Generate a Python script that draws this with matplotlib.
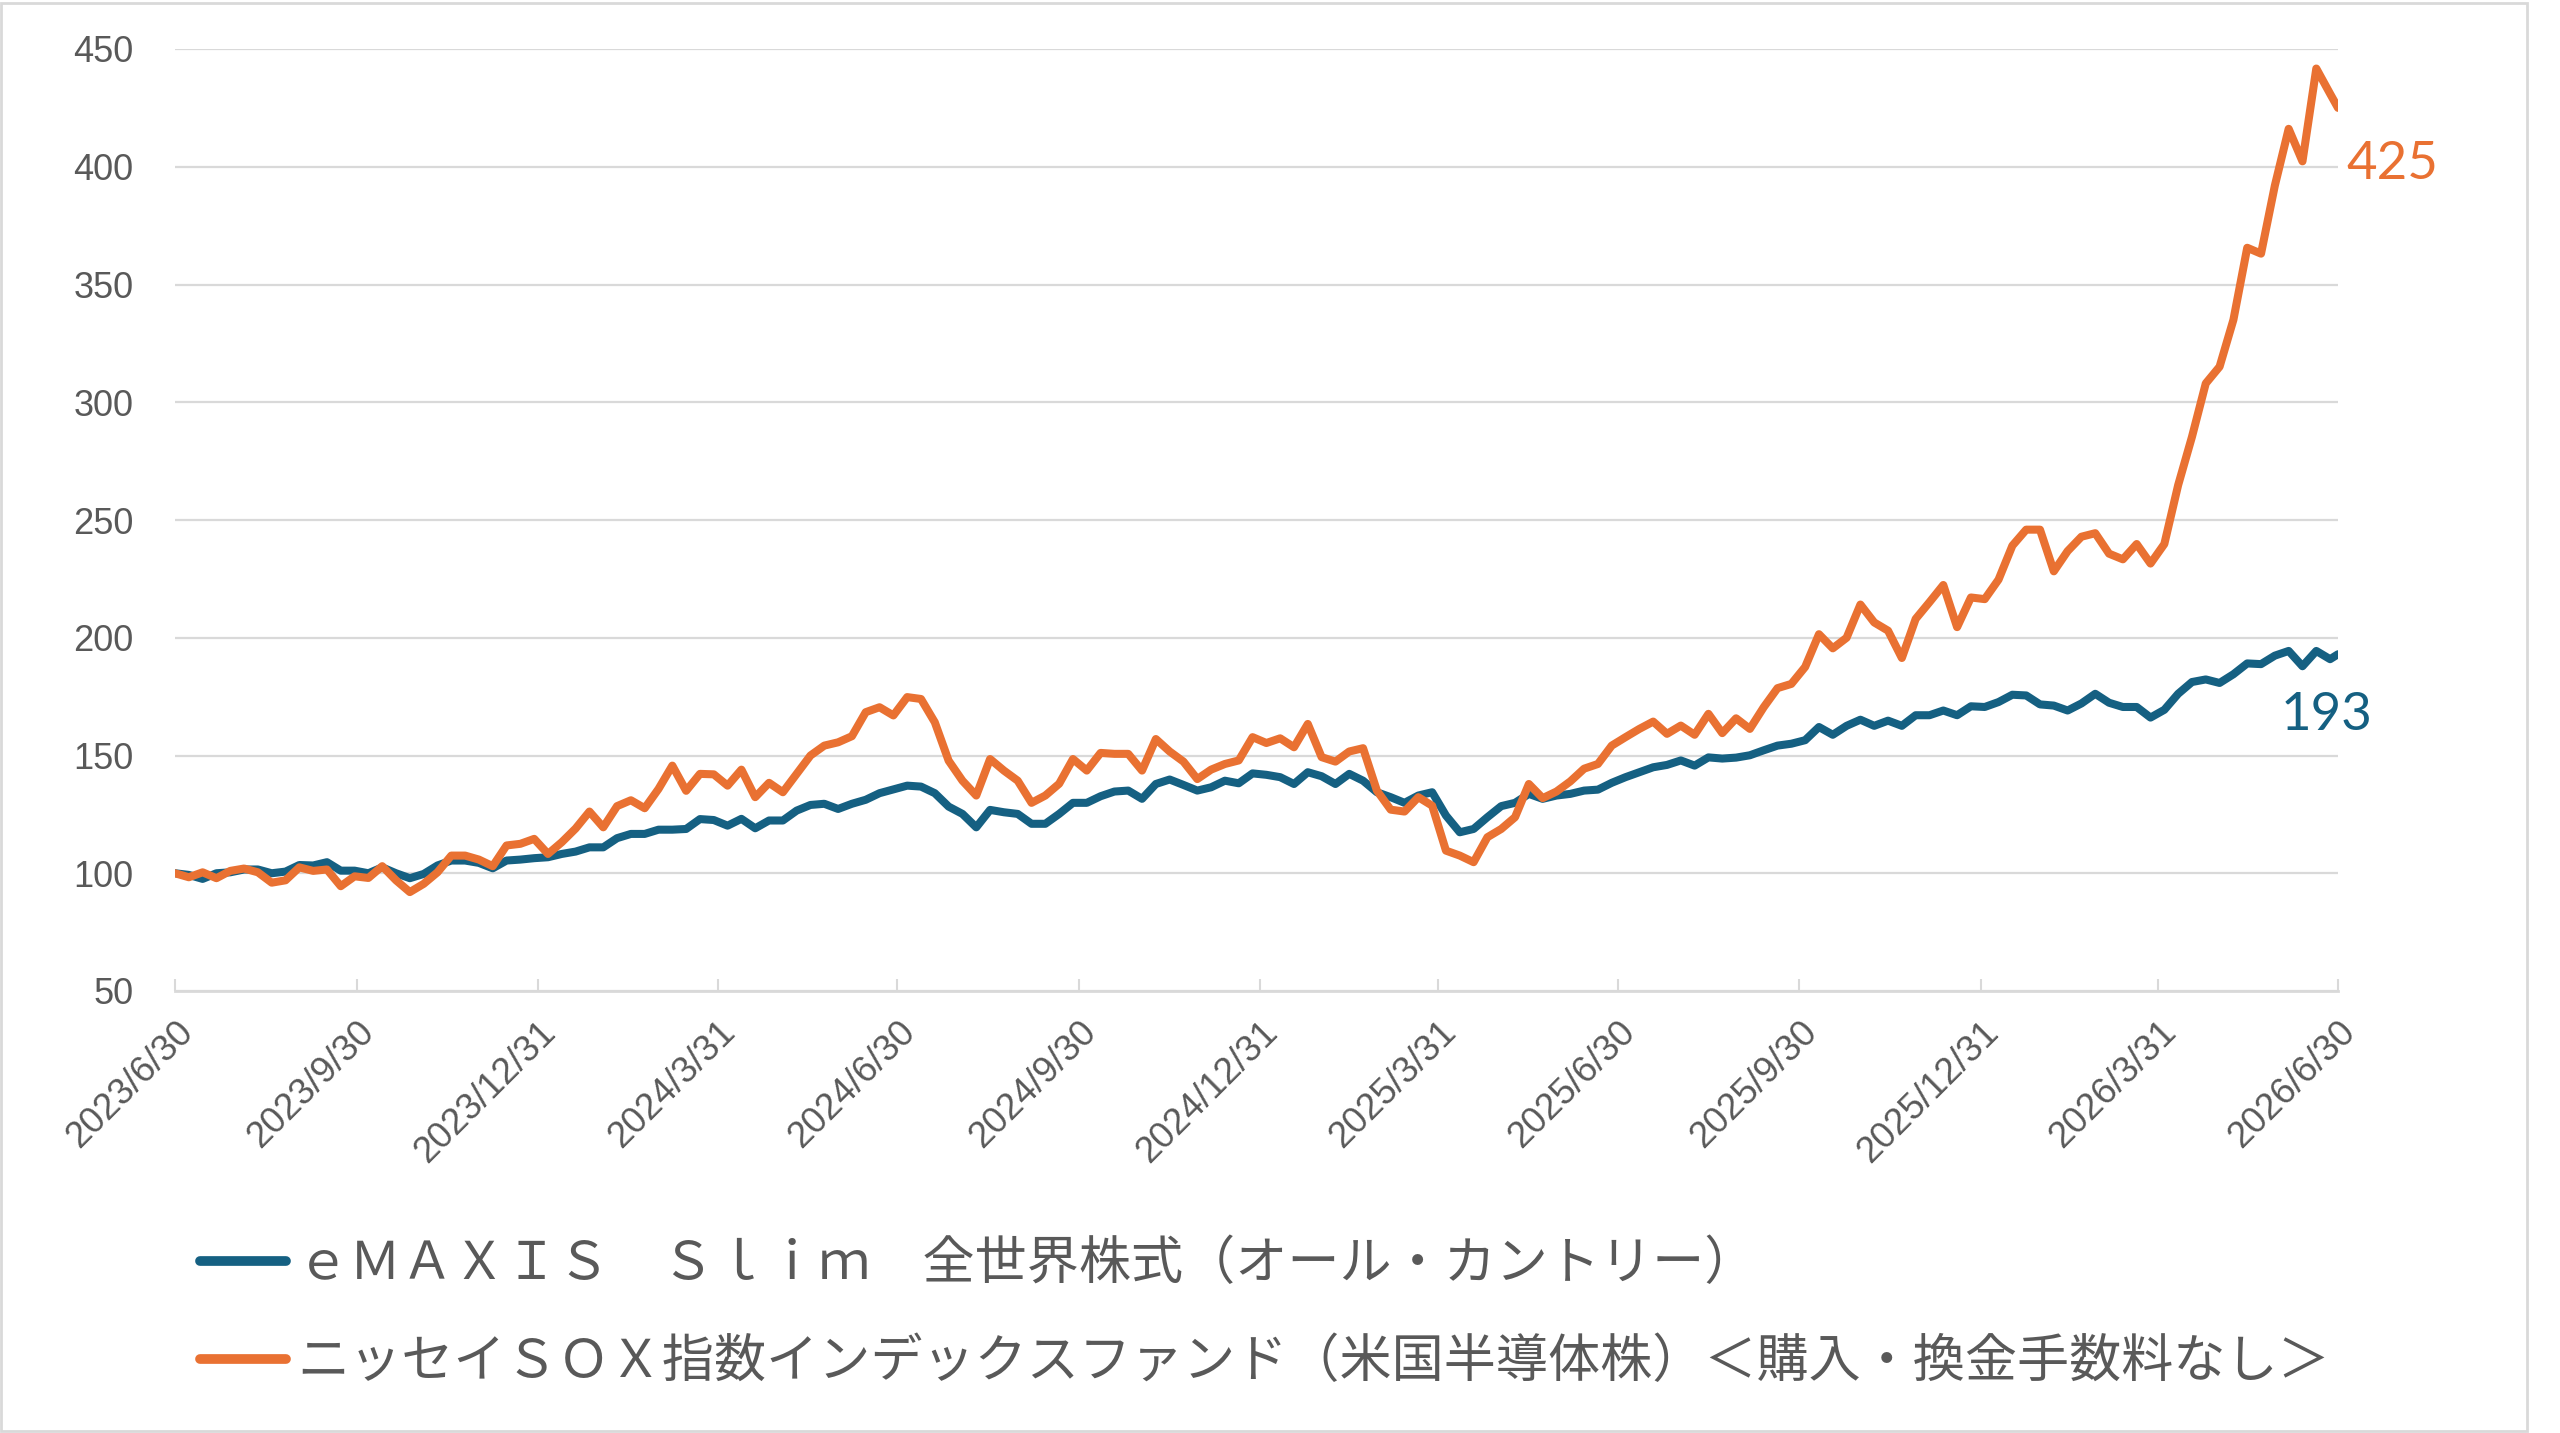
import pandas as pd
import matplotlib
matplotlib.use("Agg")
import matplotlib.pyplot as plt
from matplotlib.lines import Line2D
from matplotlib.patches import Rectangle
from matplotlib.transforms import ScaledTranslation

# 週次（金曜）＋ 最終日 2026/6/30
fechas = list(pd.date_range("2023-06-30", "2026-06-26", freq="7D")) + [pd.Timestamp("2026-06-30")]

emaxis = [
    100, 99.3, 97.6, 100, 100.4, 101.6, 101.6, 100, 100.7, 103.5,
    103.3, 104.7, 101.1, 101.1, 100, 102.5, 100, 97.9, 99.7, 103.3,
    105.4, 105.4, 104.4, 102.1, 105.4, 105.8, 106.4, 106.8, 108.2, 109.2,
    111, 111, 114.9, 116.7, 116.7, 118.5, 118.5, 118.8, 123, 122.6,
    120.2, 123.1, 119.1, 122.4, 122.4, 126.6, 129, 129.5, 127.3, 129.5,
    131.2, 134, 135.6, 137.2, 136.8, 134, 128.3, 125.2, 119.5, 126.9,
    125.9, 125.2, 121, 121, 125.2, 129.9, 129.9, 132.7, 134.7, 135.1,
    131.6, 137.9, 139.8, 137.5, 135.1, 136.5, 139.3, 138.2, 142.4, 141.8,
    140.8, 137.9, 142.9, 141.2, 137.9, 142.2, 139.3, 134.4, 132.3, 129.9,
    133, 134.4, 124.5, 117.4, 118.8, 123.8, 128.5, 129.9, 133.7, 131.6,
    133, 133.7, 135.1, 135.5, 138.4, 140.8, 142.9, 145, 146, 147.9,
    145.7, 149.2, 148.7, 149.1, 150.1, 152.2, 154.2, 155, 156.5, 162.1,
    158.8, 162.6, 165.2, 162.6, 164.8, 162.6, 167.1, 167.1, 169.1, 167.1,
    170.9, 170.6, 172.7, 175.8, 175.5, 171.7, 171.2, 169.1, 172.1, 176.2,
    172.4, 170.6, 170.6, 166.1, 169.4, 176.2, 181.2, 182.3, 180.8, 184.5,
    189.1, 188.8, 192.4, 194.4, 187.9, 194.4, 190.9, 193,
]

sox = [
    100, 98.3, 100.4, 97.9, 101, 102, 100.4, 96, 97, 102.5,
    101, 101.6, 94.5, 98.7, 98, 103, 97, 92, 95.5, 100.4,
    107.5, 107.5, 105.8, 103, 111.8, 112.5, 114.6, 108.2, 113.2, 119,
    126.2, 119.5, 128.5, 131, 127.6, 135.8, 145.7, 135, 142.2, 142,
    137.2, 144, 132.3, 138.4, 134.4, 142.2, 150, 154.2, 155.6, 158.2,
    168.4, 170.5, 167, 174.8, 174, 164.1, 147.8, 139.3, 133, 148.5,
    143.6, 139.3, 129.9, 133, 138, 148.5, 143.6, 151.1, 150.7, 150.7,
    143.6, 157, 151.7, 147.4, 140, 144, 146.4, 147.9, 157.8, 155.3,
    157.3, 153.5, 163.4, 149.3, 147.4, 151.7, 153.1, 135.1, 127, 126.2,
    132.3, 128.7, 109.6, 107.5, 104.7, 115.3, 118.8, 123.8, 137.9, 131.9,
    134.7, 139, 144.4, 146.4, 154.2, 157.8, 161.3, 164.4, 159.2, 162.7,
    158.8, 167.7, 159.5, 165.8, 161.3, 170.5, 178.6, 180.4, 187.6, 201.5,
    195.5, 200, 214.1, 206.5, 203, 191.4, 208, 215.1, 222.4, 204.5,
    217.1, 216.4, 224.7, 239.1, 245.9, 245.9, 228.2, 236.8, 242.9, 244.4,
    235.7, 233.3, 239.8, 231.5, 239.8, 264.8, 285.3, 308, 315.1, 335,
    365.6, 363.1, 392, 416.1, 402.3, 441.7, 431, 425,
]

nomes = [
    "ｅＭＡＸＩＳ　Ｓｌｉｍ　全世界株式（オール・カントリー）",
    "ニッセイＳＯＸ指数インデックスファンド（米国半導体株）＜購入・換金手数料なし＞",
]

ticks_x = ["2023-06-30", "2023-09-30", "2023-12-31", "2024-03-31", "2024-06-30",
           "2024-09-30", "2024-12-31", "2025-03-31", "2025-06-30", "2025-09-30",
           "2025-12-31", "2026-03-31", "2026-06-30"]
ticks_y = [50, 100, 150, 200, 250, 300, 350, 400, 450]

azul = "#156082"
laranja = "#E97132"
cinza_texto = "#595959"
cinza_grade = "#D9D9D9"

plt.rcParams["font.family"] = ["Liberation Sans", "DejaVu Sans"]

fig = plt.figure(figsize=(25.6, 14.33), dpi=100)
ax = fig.add_axes([175 / 2560, 1 - 991 / 1433, (2338 - 175) / 2560, (991 - 49) / 1433])

ax.plot(fechas, emaxis, color=azul, lw=5.8, solid_joinstyle="round", solid_capstyle="round", zorder=3)
ax.plot(fechas, sox, color=laranja, lw=5.8, solid_joinstyle="round", solid_capstyle="round", zorder=4)

ax.set_ylim(50, 450)
ax.set_yticks(ticks_y)
ax.set_xlim(pd.Timestamp(ticks_x[0]), pd.Timestamp(ticks_x[-1]))
datas_ticks = [pd.Timestamp(t) for t in ticks_x]
ax.set_xticks(datas_ticks)
ax.set_xticklabels([f"{d.year}/{d.month}/{d.day}" for d in datas_ticks],
                   rotation=45, ha="right", rotation_mode="anchor")
desloc = ScaledTranslation(-0.07, -0.04, fig.dpi_scale_trans)
for rotulo in ax.get_xticklabels():
    rotulo.set_transform(rotulo.get_transform() + desloc)

ax.grid(axis="y", color=cinza_grade, lw=1.6)
ax.set_axisbelow(True)
for lado in ["left", "right", "top"]:
    ax.spines[lado].set_visible(False)
ax.spines["bottom"].set_color(cinza_grade)
ax.spines["bottom"].set_linewidth(2)

ax.tick_params(axis="y", length=0, pad=30, labelsize=26, labelcolor=cinza_texto)
ax.tick_params(axis="x", direction="in", length=9, width=1.5, color=cinza_grade,
               pad=17, labelsize=26.5, labelcolor=cinza_texto)

# 最終値ラベル
ax.annotate(f"{sox[-1]:.0f}", xy=(fechas[-1], sox[-1]), xytext=(8, -57),
            textcoords="offset pixels", ha="left", va="center",
            fontsize=38, color=laranja, family=["Lato", "DejaVu Sans"])
ax.annotate(f"{emaxis[-1]:.0f}", xy=(fechas[-1], emaxis[-1]), xytext=(-11, -61),
            textcoords="offset pixels", ha="center", va="center",
            fontsize=38, color=azul, family=["Lato", "DejaVu Sans"])

handles = [Line2D([], [], color=azul, lw=7, solid_capstyle="round"),
           Line2D([], [], color=laranja, lw=7, solid_capstyle="round")]
fig.legend(handles, nomes, loc="upper left", bbox_to_anchor=(200 / 2560, 1 - 1238 / 1433),
           frameon=False, handlelength=1.65, handletextpad=0.22, labelspacing=0.85,
           prop={"family": ["Noto Sans CJK JP", "DejaVu Sans"], "size": 37.5},
           labelcolor=cinza_texto, borderaxespad=0, borderpad=0)

fig.patches.append(Rectangle((1 / 2560, 2 / 1433), 2526 / 2560, 1428 / 1433,
                             transform=fig.transFigure, fill=False,
                             edgecolor=cinza_grade, lw=2))

fig.savefig("out.png", dpi=100, facecolor="white")
plt.close(fig)
